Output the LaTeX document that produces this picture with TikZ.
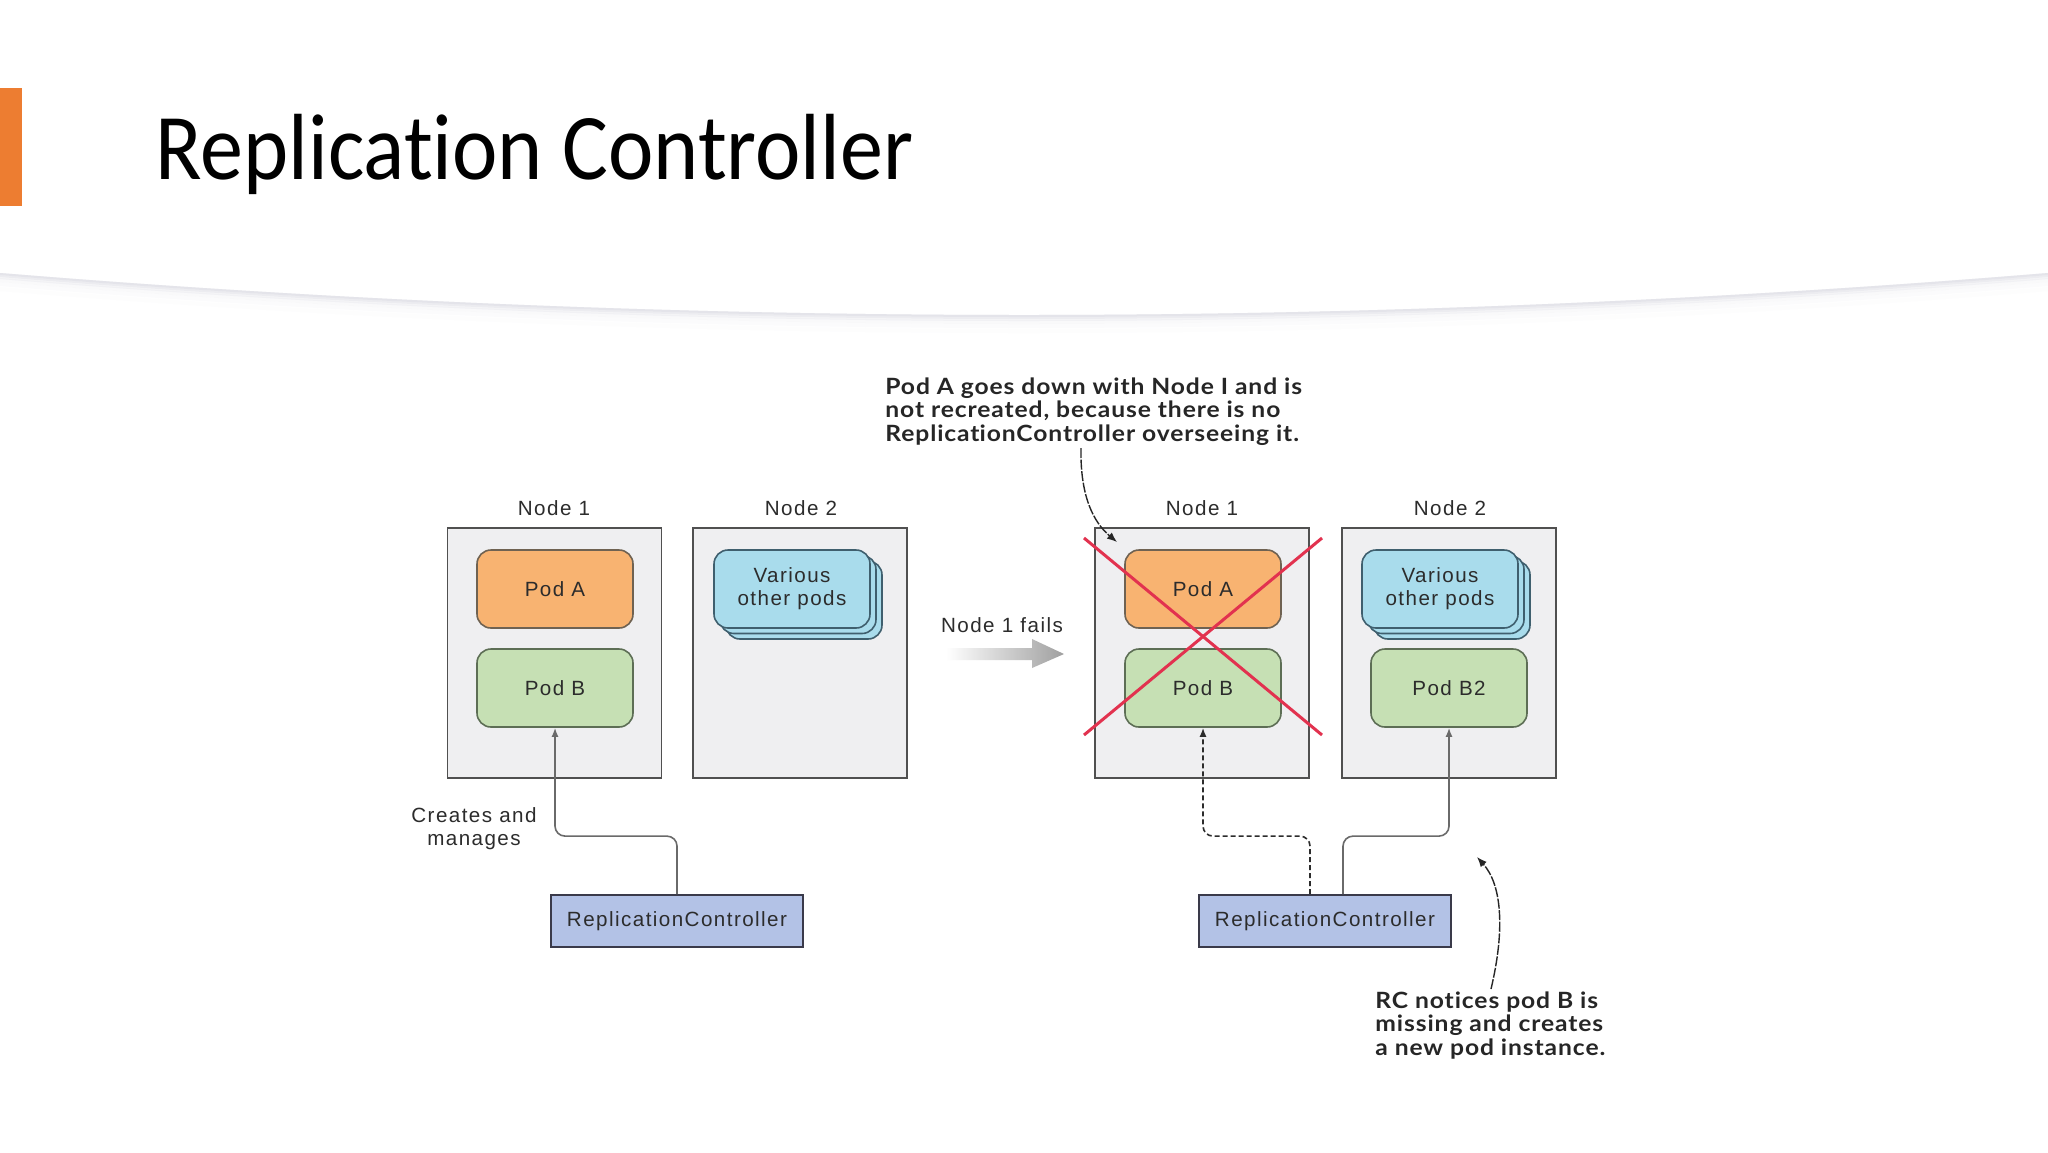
\documentclass[tikz,border=0pt]{standalone}
\usepackage{fontspec}
\setmainfont{Liberation Sans}
\newfontfamily\titlefont[FakeStretch=0.915,Ligatures=NoCommon]{Carlito}
\newfontfamily\annfont[FakeStretch=1.1,LetterSpace=4,Ligatures=NoCommon]{Lato}
\newfontfamily\diafont[LetterSpace=7]{Liberation Sans}
\usetikzlibrary{arrows.meta,shadows}
\definecolor{nodebg}{HTML}{EFEFF1}
\definecolor{nodeborder}{HTML}{505050}
\definecolor{podAfill}{HTML}{F8B371}
\definecolor{podAdraw}{HTML}{6F6252}
\definecolor{podBfill}{HTML}{C6E0B4}
\definecolor{podBdraw}{HTML}{5D6E55}
\definecolor{varfill}{HTML}{A9DCEC}
\definecolor{vardraw}{HTML}{3F5F6E}
\definecolor{rcfill}{HTML}{B3C2E6}
\definecolor{rcdraw}{HTML}{3A3A4A}
\definecolor{textc}{HTML}{2C2C2C}
\definecolor{conncol}{HTML}{6A6A6A}
\definecolor{crossred}{HTML}{E2324F}
\definecolor{barorange}{HTML}{ED7D31}
\definecolor{anntext}{HTML}{262626}
\definecolor{curvecol}{HTML}{E4E4EA}
\tikzset{
  dfont/.style={font=\diafont\fontsize{10.3}{11.5}\selectfont},
  nodebox/.style={draw=nodeborder, fill=nodebg, line width=0.9pt, minimum width=107pt, minimum height=125pt, inner sep=0pt},
  pod/.style={draw, rounded corners=7pt, line width=0.8pt, minimum width=78pt, minimum height=39pt, inner sep=0pt, align=center, text=textc, dfont},
  podA/.style={pod, fill=podAfill, draw=podAdraw},
  podB/.style={pod, fill=podBfill, draw=podBdraw},
  varpods/.style={pod, fill=varfill, draw=vardraw, double copy shadow={shadow xshift=3pt, shadow yshift=-2.75pt, fill=varfill, draw=vardraw, line width=0.8pt}},
  rcbox/.style={draw=rcdraw, fill=rcfill, line width=0.9pt, minimum width=126pt, minimum height=26pt, inner sep=0pt, text=textc, dfont},
  lbl/.style={text=textc, dfont, inner sep=0pt, align=center},
  conn/.style={draw=conncol, line width=0.8pt, rounded corners=5pt, -{Latex[length=4.5pt,width=3.5pt]}},
  dconn/.style={conn, draw=textc, dash pattern=on 2.5pt off 1.5pt},
  ann/.style={text=anntext, font=\annfont\bfseries\fontsize{11.2}{11.8}\selectfont, align=left, inner sep=0pt, anchor=north west},
  annarrow/.style={draw=anntext, line width=0.7pt, dash pattern=on 5pt off 0.8pt, -{Latex[length=5pt,width=4pt]}},
  cross/.style={draw=crossred, line width=1.5pt}
}
\begin{document}
\begin{tikzpicture}[x=0.5pt,y=-0.5pt]
\useasboundingbox (0,0) rectangle (2048,1152);
\fill[white] (0,0) rectangle (2048,1152);
% header decoration
\foreach \d/\o in {1/0.5,3/0.35,6/0.22,10/0.12,15/0.06}{
  \draw[draw=curvecol, line width=2pt, opacity=\o] (0,274+\d) .. controls (683,330+\d) and (1365,330+\d) .. (2048,274+\d);
}
\draw[draw=curvecol, line width=1pt] (0,274) .. controls (683,330) and (1365,330) .. (2048,274);
\fill[barorange] (0,88) rectangle (22,206);
\node[anchor=base west, inner sep=0pt, font=\titlefont\fontsize{47}{56}\selectfont] (title) at (155,179) {Replicat\kern0pt ion Controller};

% left state
\node[nodebox] (nL1) at (554.5,653) {};
\node[nodebox] (nL2) at (800,653) {};
\node[lbl] (lL1) at (554,508) {Node 1};
\node[lbl] (lL2) at (801,508) {Node 2};
\node[podA] (podAL) at (555,589) {Pod A};
\node[podB] (podBL) at (555,688) {Pod B};
\node[varpods] (varL) at (792,589) {Various\\other pods};
\node[rcbox] (rcL) at (677,921) {ReplicationController};
\node[lbl] (cm) at (474,829) {Creates and\\manages};
\draw[conn] (rcL.north) -- ++(0,-58) -| (podBL.south);

% transition arrow
\node[lbl] (fails) at (1002,625) {Node 1 fails};
\shade[left color=white, right color=gray!75] (946,648) -- (1032,648) -- (1032,639) -- (1064,654) -- (1032,668) -- (1032,660) -- (946,660) -- cycle;

% right state
\node[nodebox] (nR1) at (1202,653) {};
\node[nodebox] (nR2) at (1449,653) {};
\node[lbl] (lR1) at (1202,508) {Node 1};
\node[lbl] (lR2) at (1450,508) {Node 2};
\node[podA] (podAR) at (1203,589) {Pod A};
\node[podB] (podBR) at (1203,688) {Pod B};
\node[varpods] (varR) at (1440,589) {Various\\other pods};
\node[podB] (podB2) at (1449,688) {Pod B2};
\node[rcbox] (rcR) at (1325,921) {ReplicationController};
\draw[dconn] ([xshift=-7.5pt]rcR.north) -- ++(0,-58) -| (podBR.south);
\draw[conn] ([xshift=9pt]rcR.north) -- ++(0,-58) -| (podB2.south);
\draw[cross] (1084,538) -- (1322,735);
\draw[cross] (1084,735) -- (1322,538);

% annotations
\node[ann] (annTop) at (885,377) {Pod A goes down with Node I and is\\not recreated, because there is no\\Replicat\kern0pt ionController overseeing it.};
\coordinate (a1s) at (1081,448);
\coordinate (a1e) at (1117,542);
\draw[annarrow] (a1s) .. controls (1080,495) and (1093,522) .. (a1e);
\node[ann] (annBot) at (1375,991) {RC notices pod B is\\missing and creates\\a new pod instance.};
\coordinate (a2s) at (1491,989);
\coordinate (a2e) at (1477,857);
\draw[annarrow] (a2s) .. controls (1505,930) and (1502,885) .. (a2e);
\end{tikzpicture}
\end{document}
